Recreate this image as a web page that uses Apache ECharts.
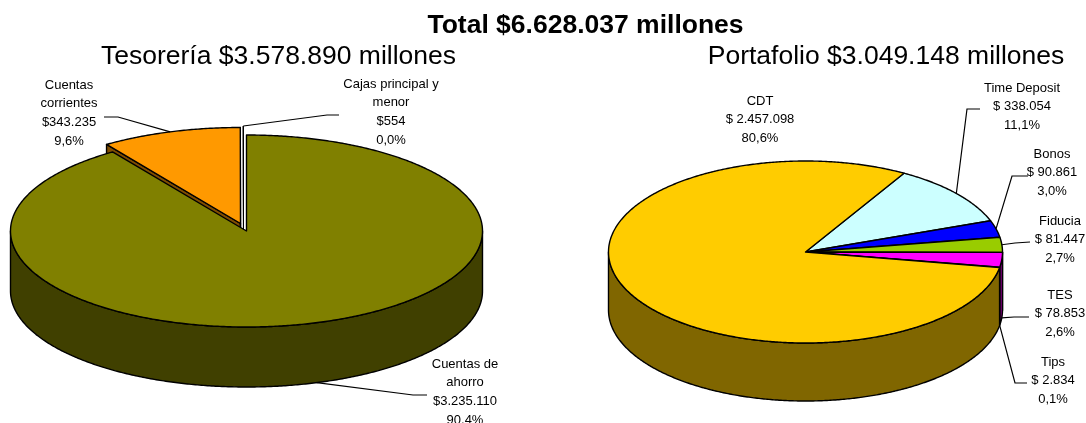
<!DOCTYPE html>
<html>
<head>
<meta charset="utf-8">
<style>html,body{margin:0;padding:0;background:#fff}#chart{width:1086px;height:423px}</style>
<script src="https://cdn.jsdelivr.net/npm/echarts@6/dist/echarts.min.js"></script>
</head>
<body>
<div id="chart"></div>
<script>
// Slices run clockwise from the given start angle.
const treasuryNames = ['Cuentas de\nahorro', 'Cuentas\ncorrientes', 'Cajas principal y\nmenor'];
const treasuryValues = [3235110, 343235, 554];
const treasuryAmounts = ['$3.235.110', '$343.235', '$554'];
const treasuryShares = ['90,4%', '9,6%', '0,0%'];
const treasuryColors = ['#808000', '#FF9900', '#FFFFFF'];
const treasuryWalls = ['#404000', '#804D00', '#FFFFFF'];

const portfolioNames = ['Time Deposit', 'Bonos', 'Fiducia', 'TES', 'Tips', 'CDT'];
const portfolioValues = [338054, 90861, 81447, 78853, 2834, 2457098];
const portfolioAmounts = ['$ 338.054', '$ 90.861', '$ 81.447', '$ 78.853', '$ 2.834', '$ 2.457.098'];
const portfolioShares = ['11,1%', '3,0%', '2,7%', '2,6%', '0,1%', '80,6%'];
const portfolioColors = ['#CCFFFF', '#0000FF', '#99CC00', '#FF00FF', '#800080', '#FFCC00'];
const portfolioWalls = ['#668080', '#000080', '#4D6600', '#800080', '#400040', '#806600'];

const titleMain = 'Total $6.628.037 millones';
const titleLeft = 'Tesorería $3.578.890 millones';
const titleRight = 'Portafolio $3.049.148 millones';

// Tilted-disc geometry of each pie.
const treasuryDisc = { cx: 246.5, cy: 231, a: 236, b: 96, depth: 60, start: 0 };
const portfolioDisc = { cx: 805.5, cy: 252, a: 197, b: 91, depth: 58, start: 30 };

// Pull-out offset per slice, label centre (first line) and leader elbow/end.
const treasuryOffsets = [[0, 0], [-6, -7.5], [-3, -9]];
const treasuryLabels = [
  { x: 465, y: 364, elbow: [413, 395], end: [427, 395] },
  { x: 69, y: 85, elbow: [118, 117], end: [104, 117] },
  { x: 391, y: 84, elbow: [327, 115], end: [339, 115] }
];
const portfolioOffsets = [[0, 0], [0, 0], [0, 0], [0, 0], [0, 0], [0, 0]];
const portfolioLabels = [
  { x: 1022, y: 88, elbow: [967, 109], end: [980, 109] },
  { x: 1052, y: 154, elbow: [1012, 176], end: [1028, 176] },
  { x: 1060, y: 221, elbow: [1015, 243], end: [1030, 242] },
  { x: 1060, y: 295, elbow: [1014, 317], end: [1029, 317] },
  { x: 1053, y: 362, elbow: [1015, 383], end: [1027, 383] },
  { x: 760, y: 101 }
];

const LINE = 18.8;
const FONT = '13px "Liberation Sans", Arial, sans-serif';

function rimPoint(d, off, deg, drop) {
  const r = deg * Math.PI / 180;
  return [d.cx + off[0] + d.a * Math.sin(r), d.cy + off[1] - d.b * Math.cos(r) + (drop || 0)];
}

function arcPoints(d, off, from, to, drop) {
  const n = Math.max(1, Math.ceil(Math.abs(to - from) / 0.5));
  const pts = [];
  for (let i = 0; i <= n; i++) pts.push(rimPoint(d, off, from + (to - from) * i / n, drop));
  return pts;
}

function polygon(points, fill, z2, width) {
  return { type: 'polygon', z2, silent: true, shape: { points },
    style: { fill, stroke: '#000', lineWidth: width, lineJoin: 'round' } };
}

function pieSeries(disc, names, values, amounts, shares, colors, walls, offsets, labels) {
  const total = values.reduce((s, v) => s + v, 0);
  const angleBefore = i => disc.start + 360 * values.slice(0, i).reduce((s, v) => s + v, 0) / total;
  return {
    type: 'custom',
    coordinateSystem: 'none',
    silent: true,
    animation: false,
    data: values.map(v => [v]),
    renderItem(params, api) {
      const i = params.dataIndex;
      const from = angleBefore(i);
      const to = from + 360 * api.value(0) / total;
      const off = offsets[i];
      const pulled = off[0] !== 0 || off[1] !== 0;
      const apex = [disc.cx + off[0], disc.cy + off[1]];
      const apexLow = [apex[0], apex[1] + disc.depth];
      const children = [];
      // Very thin slices keep a hairline outline so the gaps beside them stay open.
      const width = to - from < 1 ? 0.9 : 1.4;

      // Cut faces only show on slices pulled away from the disc.
      if (pulled) {
        [from, to].forEach(a => {
          children.push(polygon([apex, rimPoint(disc, off, a), rimPoint(disc, off, a, disc.depth), apexLow], walls[i], 1, width));
        });
      }
      // Outer wall: the front half of the rim only.
      const wf = Math.max(from, 90);
      const wt = Math.min(to, 270);
      if (wt > wf) {
        children.push(polygon(
          arcPoints(disc, off, wf, wt, 0).concat(arcPoints(disc, off, wt, wf, disc.depth)),
          walls[i], 1, width));
      }
      // Top face; pulled slices sit above the main slice.
      children.push(polygon([apex].concat(arcPoints(disc, off, from, to, 0)), colors[i], pulled ? 3 : 2, width));

      const lab = labels[i];
      if (lab.elbow) {
        const mid = (from + to) / 2;
        const m = ((mid % 360) + 360) % 360;
        const anchor = rimPoint(disc, off, mid, m > 90 && m < 270 ? disc.depth : 0);
        children.push({ type: 'polyline', z2: 4, silent: true,
          shape: { points: [anchor, lab.elbow, lab.end] },
          style: { fill: null, stroke: '#000', lineWidth: 1.2 } });
      }
      const lines = names[i].split('\n').concat([amounts[i], shares[i]]);
      lines.forEach((t, k) => {
        children.push({ type: 'text', z2: 5, silent: true,
          style: { text: t, x: lab.x, y: lab.y + k * LINE, align: 'center', verticalAlign: 'middle', font: FONT, fill: '#000' } });
      });
      return { type: 'group', children };
    }
  };
}

const chart = echarts.init(document.getElementById('chart'), null, { renderer: 'canvas' });
chart.setOption({
  animation: false,
  backgroundColor: '#fff',
  title: [
    { text: titleMain, left: 580.5, top: 7, textAlign: 'center',
      textStyle: { fontFamily: '"Liberation Sans", Arial', fontWeight: 'bold', fontSize: 26.5, color: '#000' } },
    { text: titleLeft, left: 273.5, top: 38, textAlign: 'center',
      textStyle: { fontFamily: '"Liberation Sans", Arial', fontWeight: 'normal', fontSize: 26.5, color: '#000' } },
    { text: titleRight, left: 881, top: 38, textAlign: 'center',
      textStyle: { fontFamily: '"Liberation Sans", Arial', fontWeight: 'normal', fontSize: 26.5, color: '#000' } }
  ],
  series: [
    pieSeries(treasuryDisc, treasuryNames, treasuryValues, treasuryAmounts, treasuryShares, treasuryColors, treasuryWalls, treasuryOffsets, treasuryLabels),
    pieSeries(portfolioDisc, portfolioNames, portfolioValues, portfolioAmounts, portfolioShares, portfolioColors, portfolioWalls, portfolioOffsets, portfolioLabels)
  ]
});
</script>
</body>
</html>
